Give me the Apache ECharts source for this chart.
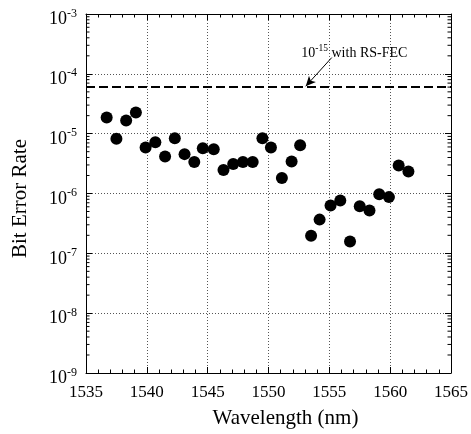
<!DOCTYPE html>
<html>
<head>
<meta charset="utf-8">
<script src="https://cdn.jsdelivr.net/npm/echarts@6/dist/echarts.min.js"></script>
<style>html,body{margin:0;padding:0;background:#fff}#c{width:471px;height:434px}</style>
</head>
<body>
<div id="c"></div>
<script>
var wavelengths = [1536.7, 1537.5, 1538.3, 1539.1, 1539.9, 1540.7, 1541.5, 1542.3, 1543.1, 1543.9, 1544.6, 1545.5, 1546.3, 1547.1, 1547.9, 1548.7, 1549.5, 1550.2, 1551.1, 1551.9, 1552.6, 1553.5, 1554.2, 1555.1, 1555.9, 1556.7, 1557.5, 1558.3, 1559.1, 1559.9, 1560.7, 1561.5];
var berValues = [1.87e-5, 8.2e-6, 1.66e-5, 2.26e-5, 5.85e-6, 7.2e-6, 4.16e-6, 8.4e-6, 4.55e-6, 3.35e-6, 5.7e-6, 5.5e-6, 2.47e-6, 3.1e-6, 3.35e-6, 3.35e-6, 8.4e-6, 5.85e-6, 1.82e-6, 3.43e-6, 6.4e-6, 1.96e-7, 3.66e-7, 6.3e-7, 7.65e-7, 1.58e-7, 6.1e-7, 5.2e-7, 9.75e-7, 8.7e-7, 2.94e-6, 2.34e-6];
var fecThreshold = 6e-5;
var xTicks = [1535, 1540, 1545, 1550, 1555, 1560, 1565];
var yDecades = [-9, -8, -7, -6, -5, -4, -3];
var minorMantissas = [2, 3, 4, 5, 6, 7, 8, 9];
var annotationPos = [1552.7, 2.34e-4];
var arrowFrom = [1555.2, 1.87e-4];
var arrowTo = [1553.06, 6.2e-5];

var FONT = '"Liberation Serif", "Times New Roman", serif';
var minorTickVals = [];
for (var d = 0; d < yDecades.length - 1; d++) {
  for (var m = 0; m < minorMantissas.length; m++) {
    minorTickVals.push([xTicks[0], minorMantissas[m] * Math.pow(10, yDecades[d])]);
  }
}

var chart = echarts.init(document.getElementById('c'), null, {renderer: 'canvas'});
var gridLine = {show: true, lineStyle: {color: '#555', type: [1, 2], width: 1}};
var option = {
  animation: false,
  backgroundColor: '#fff',
  grid: {left: 86, right: 18, top: 14, bottom: 58, containLabel: false},
  xAxis: [{
    type: 'value', min: xTicks[0], max: xTicks[xTicks.length - 1], interval: 5,
    position: 'bottom',
    name: 'Wavelength (nm)', nameLocation: 'middle', nameGap: 35,
    nameTextStyle: {fontFamily: FONT, fontSize: 21, color: '#000', padding: [0, 0, 0, 34]},
    axisLine: {show: true, onZero: false, lineStyle: {color: '#000', width: 1}},
    axisTick: {show: true, inside: true, length: 6, lineStyle: {color: '#000'}},
    minorTick: {show: true, splitNumber: 5, length: 3.5, lineStyle: {color: '#000'}},
    axisLabel: {fontFamily: FONT, fontSize: 17, color: '#000', margin: 11, formatter: function (v) { return String(v); }},
    splitLine: gridLine
  }, {
    type: 'value', min: xTicks[0], max: xTicks[xTicks.length - 1], interval: 5,
    position: 'top',
    axisLine: {show: true, onZero: false, lineStyle: {color: '#000', width: 1}},
    axisTick: {show: true, inside: true, length: 6, lineStyle: {color: '#000'}},
    minorTick: {show: true, splitNumber: 5, length: 3.5, lineStyle: {color: '#000'}},
    axisLabel: {show: false},
    splitLine: {show: false}
  }],
  yAxis: [{
    type: 'log', logBase: 10, min: 1e-9, max: 1e-3, interval: 1,
    position: 'left',
    name: 'Bit Error Rate', nameLocation: 'middle', nameGap: 55,
    nameTextStyle: {fontFamily: FONT, fontSize: 21, color: '#000', padding: [0, 10, 0, 0]},
    axisLine: {show: true, onZero: false, lineStyle: {color: '#000', width: 1}},
    axisTick: {show: true, inside: true, length: 6, lineStyle: {color: '#000'}},
    axisLabel: {
      margin: 9,
      padding: [8, 0, 0, 0],
      formatter: function (v) { return '{b|10}{s|' + Math.round(Math.log10(v)) + '}'; },
      rich: {
        b: {fontFamily: FONT, fontSize: 18, color: '#000', lineHeight: 21, verticalAlign: 'bottom'},
        s: {fontFamily: FONT, fontSize: 12, color: '#000', lineHeight: 21, verticalAlign: 'top'}
      }
    },
    splitLine: gridLine
  }, {
    type: 'log', logBase: 10, min: 1e-9, max: 1e-3, interval: 1,
    position: 'right',
    axisLine: {show: true, onZero: false, lineStyle: {color: '#000', width: 1}},
    axisTick: {show: true, inside: true, length: 6, lineStyle: {color: '#000'}},
    axisLabel: {show: false},
    splitLine: {show: false}
  }],
  series: [{
    type: 'custom',
    xAxisIndex: 0, yAxisIndex: 0,
    silent: true,
    renderItem: function (params, api) {
      var v = api.value(1);
      var l = api.coord([xTicks[0], v]);
      var r = api.coord([xTicks[xTicks.length - 1], v]);
      return {type: 'group', children: [
        {type: 'line', shape: {x1: l[0], y1: l[1], x2: l[0] + 3.5, y2: l[1]}, style: {stroke: '#000', lineWidth: 1}},
        {type: 'line', shape: {x1: r[0], y1: r[1], x2: r[0] - 3.5, y2: r[1]}, style: {stroke: '#000', lineWidth: 1}}
      ]};
    },
    encode: {x: 0, y: 1},
    data: minorTickVals,
    z: 3
  }, {
    type: 'scatter',
    xAxisIndex: 0, yAxisIndex: 0,
    symbol: 'circle', symbolSize: 12,
    itemStyle: {color: '#000', opacity: 1},
    data: wavelengths.map(function (w, i) { return [w, berValues[i]]; }),
    markLine: {
      silent: true, animation: false,
      symbol: ['none', 'none'],
      label: {show: false},
      lineStyle: {color: '#000', type: [9, 4], width: 2, opacity: 1},
      data: [[{coord: [xTicks[0], fecThreshold]}, {coord: [xTicks[xTicks.length - 1], fecThreshold]}]]
    },
    z: 4
  }, {
    type: 'scatter',
    xAxisIndex: 0, yAxisIndex: 0,
    symbolSize: 0,
    silent: true,
    itemStyle: {opacity: 1},
    data: [annotationPos],
    label: {
      show: true, position: 'right', distance: 0, opacity: 1,
      formatter: '{b|10}{s|-15}{b| with RS-FEC}',
      rich: {
        b: {fontFamily: FONT, fontSize: 14, color: '#000', lineHeight: 17, verticalAlign: 'bottom'},
        s: {fontFamily: FONT, fontSize: 9.5, color: '#000', lineHeight: 17, verticalAlign: 'top'}
      }
    },
    markLine: {
      silent: true, animation: false,
      symbol: ['none', 'arrow'], symbolSize: [7, 10],
      label: {show: false},
      lineStyle: {color: '#000', type: 'solid', width: 1, opacity: 1},
      itemStyle: {color: '#000'},
      data: [[{coord: arrowFrom}, {coord: arrowTo}]]
    }
  }]
};
chart.setOption(option);
</script>
</body>
</html>
